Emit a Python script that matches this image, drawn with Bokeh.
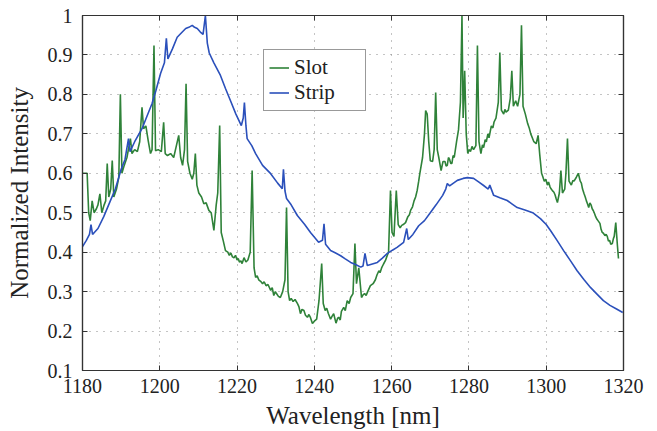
from bokeh.plotting import figure
from bokeh.models import (FixedTicker, CustomJSTickFormatter, LinearAxis, Legend,
                          LegendItem, Range1d)
from bokeh.embed import file_html
from bokeh.resources import INLINE

# ---------------- data ----------------
x_ticks = [1180, 1200, 1220, 1240, 1260, 1280, 1300, 1320]
y_ticks = [0.1, 0.2, 0.3, 0.4, 0.5, 0.6, 0.7, 0.8, 0.9, 1.0]

strip_wl = [1180.0, 1181.0, 1181.8, 1182.2, 1182.6, 1184.0, 1185.5, 1187.2, 1188.5, 1190.0,
            1191.0, 1191.9, 1192.3, 1193.5, 1195.4, 1196.5, 1198.0, 1199.0, 1200.2, 1201.2,
            1201.7, 1202.1, 1203.3, 1204.5, 1205.5, 1206.7, 1207.5, 1208.4, 1209.0, 1209.7,
            1210.5, 1211.2, 1211.8, 1212.3, 1212.8, 1214.0, 1215.7, 1217.0, 1218.3, 1219.7,
            1221.1, 1221.6, 1221.9, 1222.3, 1222.6, 1223.8, 1224.8, 1226.6, 1228.7, 1230.5,
            1231.7, 1232.0, 1232.4, 1232.8, 1234.0, 1235.6, 1237.5, 1239.0, 1241.1, 1242.1,
            1242.5, 1242.9, 1244.2, 1245.5, 1246.8, 1248.0, 1249.4, 1250.8, 1252.0, 1252.6,
            1253.1, 1253.7, 1255.0, 1256.3, 1257.6, 1258.9, 1260.2, 1261.4, 1263.1, 1263.9,
            1264.3, 1265.5, 1267.0, 1268.5, 1270.0, 1271.5, 1273.2, 1274.0, 1274.4, 1275.0,
            1276.0, 1277.0, 1278.5, 1279.6, 1281.2, 1282.5, 1283.8, 1285.0, 1285.4, 1286.4,
            1288.0, 1289.9, 1291.2, 1292.5, 1294.5, 1296.5, 1298.5, 1300.0, 1301.1, 1302.8,
            1304.5, 1306.3, 1308.0, 1309.8, 1311.5, 1313.2, 1314.8, 1316.5, 1318.2, 1319.8]
strip_val = [0.414, 0.430, 0.445, 0.470, 0.445, 0.460, 0.490, 0.530, 0.560, 0.610,
             0.635, 0.688, 0.655, 0.680, 0.713, 0.740, 0.777, 0.810, 0.853, 0.880,
             0.942, 0.890, 0.916, 0.945, 0.955, 0.967, 0.970, 0.975, 0.970, 0.967,
             0.958, 0.952, 1.000, 0.930, 0.905, 0.880, 0.848, 0.815, 0.784, 0.750,
             0.721, 0.740, 0.779, 0.720, 0.688, 0.670, 0.650, 0.620, 0.599, 0.575,
             0.561, 0.610, 0.555, 0.536, 0.520, 0.493, 0.470, 0.450, 0.425, 0.430,
             0.472, 0.420, 0.404, 0.398, 0.391, 0.383, 0.374, 0.368, 0.362, 0.365,
             0.397, 0.366, 0.370, 0.374, 0.385, 0.397, 0.405, 0.412, 0.425, 0.460,
             0.432, 0.445, 0.467, 0.480, 0.500, 0.520, 0.544, 0.560, 0.574, 0.568,
             0.575, 0.582, 0.587, 0.589, 0.587, 0.578, 0.569, 0.560, 0.570, 0.544,
             0.538, 0.531, 0.522, 0.513, 0.507, 0.500, 0.485, 0.470, 0.455, 0.430,
             0.404, 0.378, 0.353, 0.330, 0.310, 0.293, 0.277, 0.265, 0.256, 0.247]

slot_wl = [1180.0, 1181.2, 1181.6, 1182.0, 1182.5, 1183.0, 1183.6, 1184.0, 1184.5, 1185.0,
           1185.6, 1186.0, 1186.4, 1186.8, 1187.3, 1187.7, 1188.1, 1188.8, 1189.4, 1189.8,
           1190.2, 1190.8, 1191.5, 1192.4, 1192.8, 1193.5, 1194.2, 1194.8, 1195.4, 1195.8,
           1196.4, 1197.0, 1197.6, 1198.0, 1198.5, 1198.9, 1199.6, 1200.4, 1201.0, 1201.4,
           1202.0, 1202.8, 1203.6, 1204.3, 1204.9, 1205.4, 1205.9, 1206.4, 1206.8, 1207.2,
           1207.8, 1208.4, 1208.8, 1209.2, 1209.6, 1210.1, 1210.8, 1211.4, 1212.0, 1212.7,
           1213.3, 1214.0, 1214.6, 1215.0, 1215.5, 1215.9, 1216.4, 1217.0, 1217.6, 1218.0,
           1218.4, 1218.8, 1219.2, 1219.6, 1220.0, 1220.3, 1220.6, 1221.0, 1221.3, 1221.8,
           1222.3, 1222.8, 1223.4, 1223.9, 1224.4, 1224.8, 1225.2, 1225.6, 1226.1, 1226.6,
           1227.0, 1227.5, 1228.0, 1228.7, 1229.1, 1229.5, 1229.9, 1230.2, 1230.7, 1231.2,
           1231.8, 1232.4, 1232.8, 1233.2, 1233.6, 1234.0, 1234.5, 1235.0, 1235.6, 1236.0,
           1236.4, 1236.8, 1237.3, 1237.7, 1238.2, 1238.6, 1239.0, 1239.5, 1240.0, 1240.6,
           1241.2, 1241.9, 1242.3, 1242.8, 1243.2, 1243.6, 1244.2, 1244.6, 1245.0, 1245.6,
           1246.0, 1246.3, 1246.7, 1247.0, 1247.6, 1248.0, 1248.5, 1249.0, 1249.4, 1250.0,
           1250.5, 1250.9, 1251.5, 1252.2, 1252.6, 1253.0, 1253.4, 1253.8, 1254.5, 1255.2,
           1255.8, 1256.2, 1256.7, 1257.0, 1257.4, 1257.9, 1258.4, 1258.8, 1259.2, 1259.7,
           1260.1, 1260.6, 1261.2, 1261.7, 1262.2, 1262.6, 1263.0, 1263.6, 1264.2, 1264.6,
           1264.9, 1265.4, 1265.8, 1266.2, 1266.6, 1267.0, 1267.3, 1268.0, 1268.5, 1268.8,
           1269.2, 1269.6, 1270.0, 1270.6, 1271.0, 1271.4, 1271.8, 1272.2, 1272.8, 1273.3,
           1273.8, 1274.1, 1274.4, 1274.7, 1275.0, 1275.3, 1275.6, 1275.9, 1276.2, 1276.8,
           1277.3, 1277.8, 1278.2, 1278.5, 1278.9, 1279.3, 1279.7, 1280.0, 1280.4, 1280.8,
           1281.2, 1281.8, 1282.2, 1282.6, 1283.1, 1283.5, 1283.8, 1284.2, 1284.5, 1284.9,
           1285.2, 1285.8, 1286.2, 1286.5, 1287.0, 1287.6, 1288.0, 1288.4, 1289.0, 1289.3,
           1289.6, 1290.2, 1290.7, 1291.1, 1291.5, 1292.1, 1292.6, 1293.2, 1293.6, 1294.0,
           1294.6, 1295.2, 1295.6, 1296.0, 1296.4, 1296.8, 1297.4, 1297.9, 1298.3, 1298.8,
           1299.1, 1299.5, 1299.9, 1300.3, 1300.6, 1301.0, 1301.3, 1301.6, 1302.0, 1302.3,
           1302.6, 1302.9, 1303.4, 1303.8, 1304.2, 1304.8, 1305.1, 1305.5, 1305.9, 1306.2,
           1306.5, 1306.9, 1307.2, 1307.8, 1308.3, 1308.8, 1309.1, 1309.4, 1309.8, 1310.1,
           1310.4, 1310.7, 1311.0, 1311.3, 1311.6, 1311.9, 1312.2, 1312.5, 1312.8, 1313.1,
           1313.4, 1313.9, 1314.2, 1314.5, 1314.8, 1315.2, 1315.5, 1315.8, 1316.1, 1316.4,
           1316.7, 1317.1, 1317.4, 1317.6, 1318.0, 1318.4, 1318.7]
slot_val = [0.600, 0.600, 0.500, 0.480, 0.530, 0.500, 0.510, 0.520, 0.548, 0.500,
            0.520, 0.530, 0.625, 0.540, 0.560, 0.632, 0.540, 0.560, 0.590, 0.800,
            0.600, 0.620, 0.640, 0.688, 0.650, 0.660, 0.655, 0.680, 0.767, 0.713,
            0.720, 0.683, 0.650, 0.660, 0.924, 0.657, 0.660, 0.655, 0.729, 0.650,
            0.645, 0.650, 0.640, 0.670, 0.696, 0.640, 0.620, 0.660, 0.827, 0.630,
            0.600, 0.585, 0.600, 0.650, 0.570, 0.550, 0.540, 0.523, 0.525, 0.506,
            0.500, 0.455, 0.520, 0.550, 0.721, 0.450, 0.430, 0.404, 0.400, 0.392,
            0.398, 0.388, 0.386, 0.392, 0.380, 0.384, 0.375, 0.378, 0.371, 0.386,
            0.375, 0.380, 0.400, 0.607, 0.360, 0.336, 0.340, 0.330, 0.326, 0.320,
            0.325, 0.315, 0.318, 0.303, 0.310, 0.290, 0.300, 0.295, 0.288, 0.285,
            0.300, 0.330, 0.513, 0.300, 0.277, 0.283, 0.275, 0.280, 0.270, 0.262,
            0.244, 0.255, 0.252, 0.240, 0.235, 0.242, 0.234, 0.219, 0.225, 0.230,
            0.277, 0.371, 0.270, 0.252, 0.258, 0.245, 0.230, 0.238, 0.244, 0.220,
            0.232, 0.235, 0.228, 0.250, 0.260, 0.252, 0.277, 0.270, 0.285, 0.295,
            0.422, 0.320, 0.360, 0.285, 0.292, 0.295, 0.290, 0.300, 0.315, 0.320,
            0.330, 0.342, 0.353, 0.348, 0.360, 0.370, 0.379, 0.390, 0.400, 0.556,
            0.450, 0.440, 0.556, 0.470, 0.462, 0.468, 0.470, 0.475, 0.490, 0.495,
            0.506, 0.515, 0.530, 0.540, 0.556, 0.580, 0.600, 0.640, 0.700, 0.759,
            0.750, 0.680, 0.632, 0.630, 0.660, 0.805, 0.660, 0.640, 0.607, 0.630,
            0.630, 0.618, 0.620, 0.640, 0.635, 0.625, 0.625, 0.645, 0.640, 0.680,
            0.710, 0.780, 1.000, 0.740, 0.860, 0.700, 0.650, 0.660, 0.655, 0.668,
            0.660, 0.670, 0.924, 0.680, 0.650, 0.672, 0.665, 0.685, 0.680, 0.700,
            0.690, 0.720, 0.715, 0.730, 0.740, 0.780, 0.906, 0.760, 0.750, 0.762,
            0.755, 0.760, 0.790, 0.860, 0.770, 0.784, 0.770, 0.800, 0.975, 0.770,
            0.750, 0.726, 0.715, 0.700, 0.690, 0.680, 0.675, 0.696, 0.650, 0.600,
            0.592, 0.580, 0.585, 0.570, 0.578, 0.565, 0.560, 0.556, 0.552, 0.545,
            0.535, 0.526, 0.550, 0.607, 0.550, 0.560, 0.600, 0.688, 0.580, 0.575,
            0.570, 0.582, 0.580, 0.590, 0.600, 0.580, 0.575, 0.560, 0.548, 0.540,
            0.530, 0.522, 0.513, 0.525, 0.520, 0.510, 0.505, 0.498, 0.490, 0.484,
            0.480, 0.473, 0.458, 0.450, 0.448, 0.442, 0.445, 0.440, 0.428, 0.430,
            0.420, 0.422, 0.435, 0.440, 0.475, 0.420, 0.384]

# ---------------- styling ----------------
FONT = "Liberation Serif"
AX = "#333333"
SLOT_COLOR = "#2f8239"
STRIP_COLOR = "#2b50bb"

p = figure(width=657, height=431, x_range=Range1d(1180, 1320), y_range=Range1d(0.1, 1.0),
           output_backend="svg", toolbar_location=None,
           min_border_left=82, min_border_right=34, min_border_top=15, min_border_bottom=61)

r_slot = p.line(slot_wl, slot_val, line_color=SLOT_COLOR, line_width=1.6)
r_strip = p.line(strip_wl, strip_val, line_color=STRIP_COLOR, line_width=1.6)

xt = FixedTicker(ticks=x_ticks)
yt = FixedTicker(ticks=y_ticks)
yfmt = CustomJSTickFormatter(code="return (Math.round(tick*10)/10).toString();")
empty = CustomJSTickFormatter(code="return '';")

def style_axis(ax):
    ax.major_tick_in = 5
    ax.major_tick_out = 0
    ax.minor_tick_in = 0
    ax.minor_tick_out = 0
    ax.axis_line_color = AX
    ax.axis_line_width = 1.2
    ax.major_tick_line_color = AX
    ax.major_tick_line_width = 1
    ax.major_label_text_font = FONT
    ax.major_label_text_font_size = "20px"
    ax.major_label_text_color = "#222222"
    ax.axis_label_text_font = FONT
    ax.axis_label_text_font_size = "25px"
    ax.axis_label_text_font_style = "normal"
    ax.axis_label_text_color = "#222222"

xa = p.xaxis[0]
ya = p.yaxis[0]
style_axis(xa)
style_axis(ya)
xa.ticker = xt
ya.ticker = yt
ya.formatter = yfmt
xa.axis_label = "Wavelength [nm]"
ya.axis_label = "Normalized Intensity"
xa.major_label_standoff = 8
ya.major_label_standoff = 10
xa.axis_label_standoff = 6
ya.axis_label_standoff = 12

for loc in ("right", "above"):
    ax = LinearAxis(ticker=yt if loc == "right" else xt, formatter=empty)
    style_axis(ax)
    ax.major_label_text_font_size = "0px"
    ax.major_label_standoff = 0
    p.add_layout(ax, loc)

for g, t in ((p.xgrid, xt), (p.ygrid, yt)):
    g.ticker = t
    g.grid_line_color = "#888888"
    g.grid_line_dash = "1 6"
    g.grid_line_width = 1

p.outline_line_color = AX
p.outline_line_width = 1.2
p.background_fill_color = "white"
p.border_fill_color = "white"

legend = Legend(items=[LegendItem(label="Slot", renderers=[r_slot]),
                       LegendItem(label="Strip", renderers=[r_strip])],
                location=(181, 259), margin=0, padding=5, spacing=0,
                glyph_width=20, glyph_height=19, label_height=19, label_width=66,
                label_standoff=5,
                label_text_font=FONT, label_text_font_size="21px",
                label_text_color="#222222",
                border_line_color=AX, border_line_width=1.2,
                background_fill_color="white", background_fill_alpha=1)
p.add_layout(legend, "center")

open("out.html", "w").write(file_html(p, INLINE))
